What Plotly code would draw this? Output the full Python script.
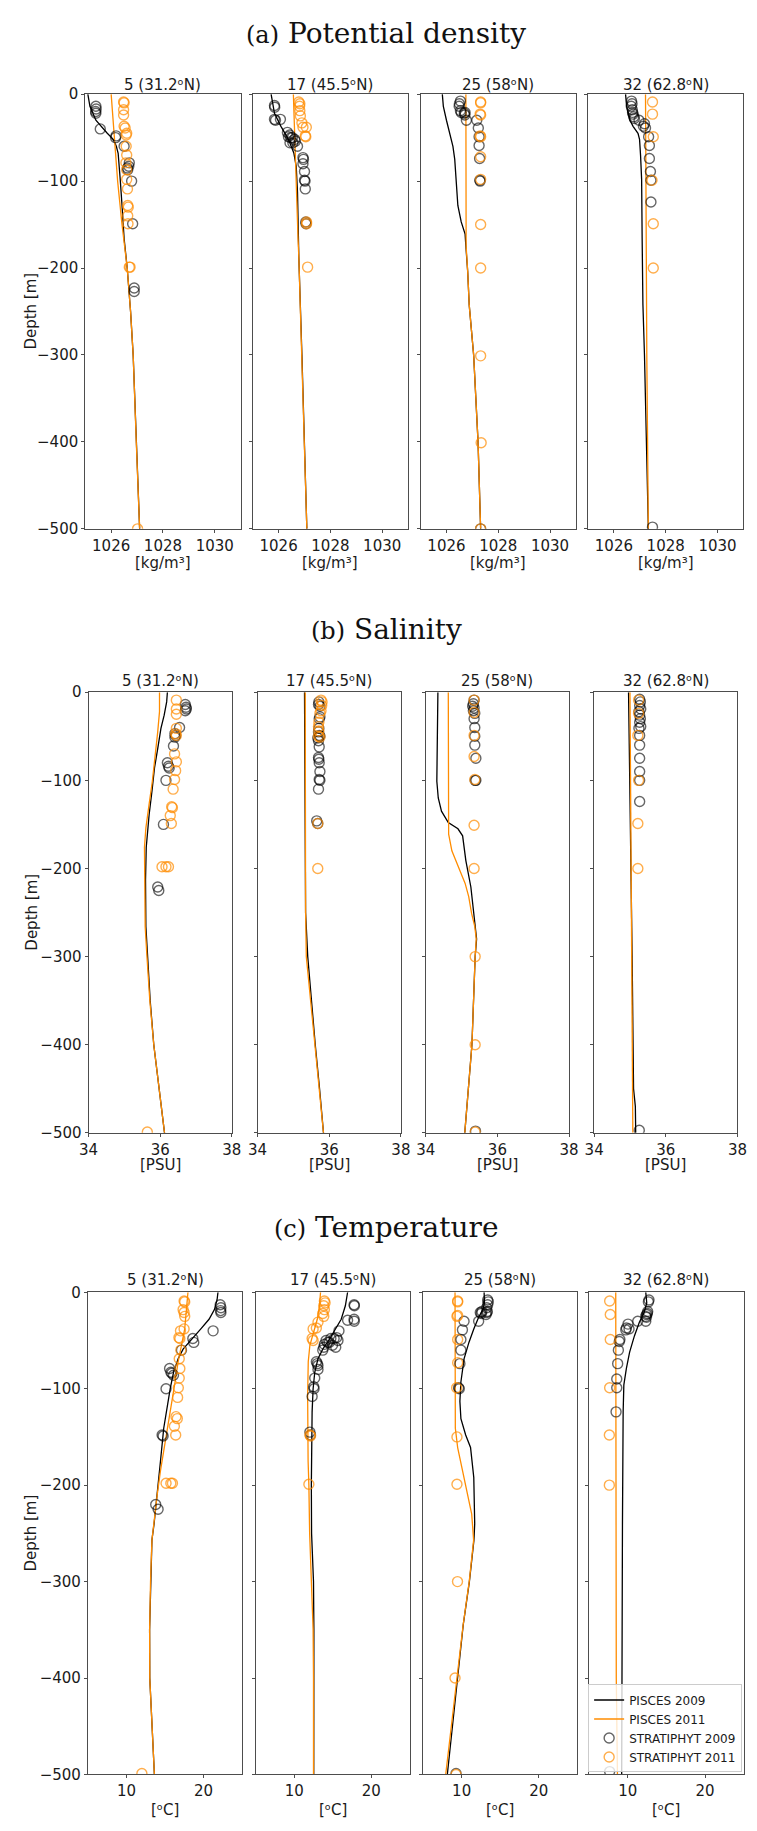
import plotly.graph_objects as go

W, H = 757, 1831
BLACK = "#000000"
ORANGE = "#ff8c00"
FRAME = "#4d4d4d"
TEXT = "#1a1a1a"

STATIONS = [
    "5 (31.2\u1d52N)",
    "17 (45.5\u1d52N)",
    "25 (58\u1d52N)",
    "32 (62.8\u1d52N)",
]
DEPTH_TICKS = [0, -100, -200, -300, -400, -500]
DEPTH_LABELS = ["0", "\u2212100", "\u2212200", "\u2212300", "\u2212400", "\u2212500"]

# ---- (a) potential density [kg/m3]; pairs are (depth m, value) ----
sig5_pisces09 = [(0, 1025.10), (14, 1025.18), (30, 1025.41), (37, 1025.60), (45, 1025.85), (52, 1026.08),
                 (60, 1026.20), (68, 1026.27), (83, 1026.32), (98, 1026.35), (128, 1026.42), (166, 1026.50),
                 (200, 1026.62), (250, 1026.75), (300, 1026.85), (400, 1026.97), (500, 1027.10)]
sig5_pisces11 = [(0, 1026.00), (50, 1026.12), (100, 1026.25), (150, 1026.42), (200, 1026.62), (250, 1026.75),
                 (300, 1026.85), (400, 1026.97), (500, 1027.10)]
sig5_obs09 = [(14, 1025.41), (17, 1025.42), (20, 1025.40), (22, 1025.41), (40, 1025.58), (48, 1026.19),
              (50, 1026.17), (60, 1026.50), (79, 1026.70), (83, 1026.68), (85, 1026.63), (87, 1026.64),
              (100, 1026.79), (149, 1026.83), (223, 1026.89), (227, 1026.89)]
sig5_obs11 = [(9, 1026.48), (10, 1026.50), (18, 1026.48), (24, 1026.48), (37, 1026.50), (39, 1026.54),
              (45, 1026.60), (47, 1026.58), (60, 1026.58), (70, 1026.60), (79, 1026.57), (87, 1026.60),
              (98, 1026.60), (109, 1026.63), (128, 1026.64), (130, 1026.66), (140, 1026.64), (149, 1026.65),
              (199, 1026.70), (199, 1026.73), (500, 1027.02)]

sig17_pisces09 = [(0, 1025.71), (22, 1025.84), (37, 1026.09), (52, 1026.38), (68, 1026.59), (83, 1026.68),
                  (113, 1026.73), (166, 1026.75), (187, 1026.78), (300, 1026.90), (400, 1027.00), (500, 1027.09)]
sig17_pisces11 = [(0, 1026.57), (83, 1026.65), (166, 1026.75), (187, 1026.78), (300, 1026.90), (400, 1027.00),
                  (500, 1027.09)]
sig17_obs09 = [(13, 1025.84), (15, 1025.85), (29, 1025.84), (30, 1025.88), (29, 1026.07), (44, 1026.34),
               (47, 1026.43), (49, 1026.38), (50, 1026.53), (50, 1026.47), (52, 1026.62), (54, 1026.65),
               (56, 1026.55), (56, 1026.44), (60, 1026.73), (73, 1026.94), (75, 1026.96), (80, 1026.94),
               (89, 1027.00), (99, 1027.00), (100, 1027.02), (109, 1027.03), (147, 1027.05), (149, 1027.06)]
sig17_obs11 = [(9, 1026.78), (11, 1026.82), (14, 1026.81), (19, 1026.82), (25, 1026.84), (33, 1026.90),
               (38, 1026.94), (38, 1027.07), (48, 1027.03), (49, 1027.05), (147, 1027.08), (149, 1027.08),
               (199, 1027.12)]

sig25_pisces09 = [(0, 1025.84), (14, 1025.88), (30, 1026.00), (45, 1026.13), (60, 1026.25), (75, 1026.32),
                  (98, 1026.38), (128, 1026.44), (147, 1026.57), (161, 1026.72), (175, 1026.75), (204, 1026.82),
                  (243, 1026.88), (300, 1027.05), (400, 1027.22), (500, 1027.32)]
sig25_pisces11 = [(0, 1026.75), (161, 1026.75), (175, 1026.76), (204, 1026.82), (243, 1026.88), (300, 1027.05),
                  (400, 1027.22), (500, 1027.32)]
sig25_obs09 = [(8, 1026.54), (11, 1026.50), (14, 1026.49), (19, 1026.54), (21, 1026.57), (21, 1026.72),
               (22, 1026.69), (24, 1026.71), (30, 1026.77), (30, 1027.17), (39, 1027.23), (49, 1027.26),
               (59, 1027.26), (74, 1027.28), (99, 1027.29), (100, 1027.30), (500, 1027.32)]
sig25_obs11 = [(9, 1027.32), (10, 1027.32), (23, 1027.30), (24, 1027.32), (48, 1027.30), (49, 1027.32),
               (72, 1027.32), (98, 1027.32), (150, 1027.32), (200, 1027.32), (301, 1027.32), (401, 1027.34),
               (500, 1027.32)]

sig32_pisces09 = [(0, 1026.45), (14, 1026.49), (30, 1026.62), (37, 1026.74), (45, 1026.93), (52, 1026.99),
                  (71, 1027.03), (98, 1027.07), (166, 1027.09), (242, 1027.12), (300, 1027.18), (400, 1027.26),
                  (500, 1027.33)]
sig32_pisces11 = [(0, 1027.22), (200, 1027.24), (300, 1027.27), (400, 1027.30), (500, 1027.33)]
sig32_obs09 = [(8, 1026.68), (11, 1026.70), (14, 1026.67), (18, 1026.71), (21, 1026.72), (23, 1026.74),
               (26, 1026.77), (28, 1026.79), (30, 1026.97), (34, 1027.18), (37, 1027.14), (39, 1027.22),
               (49, 1027.34), (59, 1027.37), (74, 1027.37), (89, 1027.41), (99, 1027.43), (124, 1027.43),
               (498, 1027.49)]
sig32_obs11 = [(9, 1027.49), (23, 1027.49), (49, 1027.52), (99, 1027.47), (149, 1027.52), (200, 1027.52)]

# ---- (b) salinity [PSU] ----
sal5_pisces09 = [(0, 36.20), (11, 36.18), (26, 36.11), (41, 36.02), (64, 35.93), (86, 35.84), (112, 35.77),
                 (139, 35.69), (176, 35.61), (213, 35.59), (266, 35.60), (300, 35.65), (350, 35.72),
                 (400, 35.82), (460, 36.00), (500, 36.12)]
sal5_pisces11 = [(0, 35.98), (22, 35.98), (45, 35.93), (71, 35.87), (101, 35.78), (127, 35.69), (154, 35.60),
                 (176, 35.56), (213, 35.56), (266, 35.58), (300, 35.63), (350, 35.71), (400, 35.82),
                 (460, 36.00), (500, 36.12)]
sal5_obs09 = [(14, 36.70), (17, 36.72), (19, 36.73), (21, 36.70), (40, 36.54), (47, 36.41), (49, 36.43),
              (51, 36.41), (61, 36.37), (80, 36.20), (84, 36.23), (86, 36.25), (100, 36.16), (150, 36.09),
              (221, 35.93), (225, 35.96)]
sal5_obs11 = [(9, 36.45), (19, 36.45), (25, 36.45), (41, 36.45), (47, 36.43), (49, 36.45), (70, 36.40),
              (79, 36.45), (89, 36.43), (99, 36.40), (110, 36.36), (130, 36.32), (131, 36.34), (140, 36.28),
              (149, 36.31), (198, 36.05), (198, 36.16), (198, 36.23), (499, 35.64)]

sal17_pisces09 = [(0, 35.31), (100, 35.32), (200, 35.33), (250, 35.34), (300, 35.40), (350, 35.50),
                  (400, 35.61), (450, 35.73), (500, 35.84)]
sal17_pisces11 = [(0, 35.33), (100, 35.33), (200, 35.34), (250, 35.34), (300, 35.36), (350, 35.48),
                  (400, 35.61), (450, 35.73), (500, 35.84)]
sal17_obs09 = [(11, 35.71), (14, 35.70), (16, 35.74), (28, 35.74), (30, 35.72), (41, 35.71), (45, 35.70),
               (49, 35.72), (50, 35.74), (52, 35.68), (55, 35.70), (62, 35.72), (74, 35.70), (76, 35.71),
               (80, 35.72), (90, 35.74), (99, 35.72), (100, 35.74), (110, 35.70), (146, 35.65), (149, 35.68)]
sal17_obs11 = [(9, 35.77), (11, 35.80), (15, 35.79), (21, 35.77), (24, 35.74), (34, 35.71), (39, 35.70),
               (44, 35.71), (50, 35.70), (51, 35.74), (149, 35.68), (200, 35.68)]

sal25_pisces09 = [(0, 34.34), (50, 34.32), (101, 34.31), (120, 34.35), (135, 34.44), (148, 34.63),
                  (155, 34.90), (163, 35.03), (191, 35.12), (221, 35.26), (251, 35.35), (280, 35.42),
                  (300, 35.38), (400, 35.29), (500, 35.09)]
sal25_pisces11 = [(0, 34.63), (161, 34.64), (180, 34.73), (198, 34.90), (217, 35.10), (232, 35.20),
                  (251, 35.28), (266, 35.37), (280, 35.41), (300, 35.38), (400, 35.29), (500, 35.09)]
sal25_obs09 = [(9, 35.35), (13, 35.33), (16, 35.31), (18, 35.35), (21, 35.33), (24, 35.37), (30, 35.35),
               (40, 35.37), (50, 35.37), (60, 35.37), (75, 35.40), (100, 35.38), (100, 35.40), (498, 35.39)]
sal25_obs11 = [(9, 35.35), (23, 35.35), (49, 35.35), (73, 35.35), (99, 35.37), (151, 35.35), (200, 35.35),
               (300, 35.38), (400, 35.38), (499, 35.38)]

sal32_pisces09 = [(0, 34.96), (100, 35.00), (300, 35.06), (450, 35.10), (470, 35.15), (500, 35.16)]
sal32_pisces11 = [(0, 35.00), (250, 35.03), (500, 35.08)]
sal32_obs09 = [(8, 35.27), (11, 35.29), (15, 35.27), (19, 35.30), (22, 35.25), (26, 35.27), (30, 35.29),
               (34, 35.27), (39, 35.30), (41, 35.25), (49, 35.27), (60, 35.27), (75, 35.27), (90, 35.27),
               (100, 35.27), (124, 35.27), (497, 35.26)]
sal32_obs11 = [(9, 35.24), (24, 35.24), (49, 35.22), (100, 35.24), (149, 35.22), (200, 35.22)]

# ---- (c) temperature [degC] ----
tem5_pisces09 = [(0, 21.86), (8, 21.74), (18, 21.40), (28, 20.70), (38, 19.64), (49, 18.40), (59, 17.34),
                 (69, 16.70), (83, 16.10), (100, 15.67), (120, 15.25), (141, 14.83), (175, 14.41),
                 (209, 14.00), (240, 13.58), (257, 13.30), (300, 13.12), (350, 13.00), (400, 13.02),
                 (450, 13.30), (500, 13.62)]
tem5_pisces11 = [(0, 17.97), (21, 17.76), (38, 17.55), (55, 17.13), (72, 16.70), (93, 16.30), (113, 15.88),
                 (134, 15.46), (158, 14.96), (185, 14.41), (209, 14.00), (240, 13.58), (257, 13.30),
                 (300, 13.12), (350, 13.00), (400, 13.02), (450, 13.30), (500, 13.62)]
tem5_obs09 = [(13, 22.15), (16, 22.24), (19, 22.20), (21, 22.24), (40, 21.23), (48, 18.60), (52, 18.72),
              (60, 17.13), (79, 15.59), (83, 15.75), (84, 15.88), (86, 16.09), (100, 15.13), (148, 14.62),
              (149, 14.75), (220, 13.79), (225, 14.10)]
tem5_obs11 = [(9, 17.47), (10, 17.55), (18, 17.34), (21, 17.47), (25, 17.55), (38, 17.47), (40, 17.00),
              (47, 16.80), (48, 16.92), (60, 17.05), (69, 16.84), (79, 16.92), (89, 16.84), (99, 16.72),
              (109, 16.63), (129, 16.42), (131, 16.59), (139, 16.21), (148, 16.38), (198, 15.13),
              (198, 15.75), (198, 15.96), (499, 12.00)]

tem17_pisces09 = [(0, 16.92), (14, 16.63), (28, 16.09), (38, 15.38), (49, 14.54), (59, 13.70), (69, 13.08),
                  (83, 12.66), (100, 12.45), (124, 12.32), (158, 12.24), (200, 12.22), (250, 12.25),
                  (300, 12.50), (350, 12.55), (400, 12.53), (500, 12.53)]
tem17_pisces11 = [(0, 13.41), (14, 13.28), (28, 12.99), (42, 12.45), (55, 12.03), (72, 11.82), (107, 11.74),
                  (175, 11.80), (200, 11.90), (250, 12.00), (300, 12.20), (350, 12.45), (400, 12.50),
                  (500, 12.50)]
tem17_obs09 = [(13, 17.76), (14, 17.80), (28, 17.76), (30, 17.78), (29, 16.92), (40, 15.80), (47, 15.50),
               (48, 14.75), (50, 14.12), (52, 14.33), (54, 13.91), (52, 14.54), (48, 15.17), (50, 15.67),
               (57, 15.38), (60, 13.70), (55, 14.96), (57, 13.83), (72, 12.87), (74, 12.99), (76, 13.08),
               (80, 13.08), (89, 12.66), (98, 12.53), (100, 12.57), (108, 12.32), (145, 12.03), (148, 12.11)]
tem17_obs11 = [(9, 13.91), (11, 14.00), (14, 13.83), (18, 13.91), (22, 13.70), (25, 13.83), (31, 13.08),
               (37, 12.87), (38, 12.45), (48, 12.32), (50, 12.45), (148, 12.03), (149, 12.11), (199, 11.90)]

tem25_pisces09 = [(0, 12.91), (11, 12.95), (18, 12.74), (26, 12.20), (38, 11.57), (52, 10.94), (69, 10.31),
                  (93, 9.90), (113, 9.77), (131, 9.90), (148, 10.52), (161, 11.15), (192, 11.57),
                  (240, 11.69), (257, 11.59), (300, 11.00), (345, 10.20), (400, 9.45), (450, 8.80),
                  (500, 8.14)]
tem25_pisces11 = [(0, 9.14), (141, 9.18), (161, 9.48), (185, 10.10), (209, 10.73), (230, 11.30), (257, 11.55),
                  (300, 10.98), (345, 10.19), (400, 9.42), (450, 8.70), (500, 7.93)]
tem25_obs09 = [(8, 13.37), (10, 13.45), (13, 13.37), (16, 13.24), (20, 13.33), (21, 13.24), (22, 12.53),
               (21, 12.41), (23, 13.16), (20, 12.62), (30, 12.20), (30, 10.31), (39, 10.10), (49, 9.90),
               (60, 9.90), (74, 9.77), (99, 9.60), (100, 9.69), (499, 9.27)]
tem25_obs11 = [(9, 9.48), (10, 9.48), (24, 9.48), (25, 9.39), (49, 9.48), (73, 9.48), (99, 9.35), (150, 9.39),
               (199, 9.39), (300, 9.46), (400, 9.14), (500, 9.27)]

tem32_pisces09 = [(0, 12.32), (11, 12.45), (21, 12.11), (31, 11.49), (45, 10.86), (62, 10.23), (79, 9.81),
                  (96, 9.48), (124, 9.39), (240, 9.30), (500, 9.20)]
tem32_pisces11 = [(0, 8.43), (300, 8.43), (400, 8.50), (500, 8.65)]
tem32_obs09 = [(8, 12.74), (10, 12.66), (20, 12.57), (23, 12.41), (22, 12.53), (25, 12.32), (26, 12.41),
               (30, 12.32), (30, 11.28), (33, 10.02), (37, 9.81), (39, 9.73), (38, 10.15), (49, 8.97),
               (51, 8.89), (60, 8.77), (74, 8.68), (90, 8.56), (99, 8.56), (124, 8.47), (497, 7.64)]
tem32_obs11 = [(9, 7.64), (23, 7.72), (49, 7.72), (99, 7.64), (148, 7.60), (200, 7.60)]

# ---- figure layout (pixel geometry of each block of four panels) ----
SECTIONS = [
    dict(label="(a)", name="Potential density", unit="[kg/m\u00b3]",
         xrange=[1025, 1031], xticks=[1026, 1028, 1030],
         top=86, bottom=525, lefts=[77.3, 249.3, 421.7, 593.7], width=159.6,
         title_y=25, sub_y=77, unit_y=559,
         panels=[(sig5_pisces09, sig5_pisces11, sig5_obs09, sig5_obs11),
                 (sig17_pisces09, sig17_pisces11, sig17_obs09, sig17_obs11),
                 (sig25_pisces09, sig25_pisces11, sig25_obs09, sig25_obs11),
                 (sig32_pisces09, sig32_pisces11, sig32_obs09, sig32_obs11)]),
    dict(label="(b)", name="Salinity", unit="[PSU]",
         xrange=[34, 38], xticks=[34, 36, 38],
         top=690, bottom=1135, lefts=[80.7, 254.3, 427.0, 600.0], width=147.2,
         title_y=627, sub_y=679, unit_y=1167,
         panels=[(sal5_pisces09, sal5_pisces11, sal5_obs09, sal5_obs11),
                 (sal17_pisces09, sal17_pisces11, sal17_obs09, sal17_obs11),
                 (sal25_pisces09, sal25_pisces11, sal25_obs09, sal25_obs11),
                 (sal32_pisces09, sal32_pisces11, sal32_obs09, sal32_obs11)]),
    dict(label="(c)", name="Temperature", unit="[\u1d52C]",
         xrange=[5, 25], xticks=[10, 20],
         top=1296, bottom=1783, lefts=[80.0, 252.3, 424.3, 595.0], width=158.5,
         title_y=1231, sub_y=1284, unit_y=1819,
         panels=[(tem5_pisces09, tem5_pisces11, tem5_obs09, tem5_obs11),
                 (tem17_pisces09, tem17_pisces11, tem17_obs09, tem17_obs11),
                 (tem25_pisces09, tem25_pisces11, tem25_obs09, tem25_obs11),
                 (tem32_pisces09, tem32_pisces11, tem32_obs09, tem32_obs11)]),
]


def px_x(x):
    return x / W


def px_y(y):
    return 1 - y / H


fig = go.Figure()
annotations = []
layout_axes = {}
TICK_FONT = dict(family="DejaVu Sans", size=15, color=TEXT)

n = 0
for s_i, sec in enumerate(SECTIONS):
    for p_i, (m09, m11, o09, o11) in enumerate(sec["panels"]):
        n += 1
        sx = "" if n == 1 else str(n)
        xa, ya = "x" + sx, "y" + sx
        last = (s_i == len(SECTIONS) - 1 and p_i == 3)

        fig.add_trace(go.Scatter(
            x=[v for d, v in m09], y=[-d for d, v in m09], mode="lines",
            line=dict(color=BLACK, width=1.3), name="PISCES 2009",
            showlegend=last, xaxis=xa, yaxis=ya, hoverinfo="skip"))
        fig.add_trace(go.Scatter(
            x=[v for d, v in m11], y=[-d for d, v in m11], mode="lines",
            line=dict(color=ORANGE, width=1.3), name="PISCES 2011",
            showlegend=last, xaxis=xa, yaxis=ya, hoverinfo="skip"))
        fig.add_trace(go.Scatter(
            x=[v for d, v in o09], y=[-d for d, v in o09], mode="markers",
            marker=dict(symbol="circle-open", size=10, color=BLACK, opacity=0.6,
                        line=dict(width=1.4, color=BLACK)),
            name="STRATIPHYT 2009", showlegend=last, xaxis=xa, yaxis=ya, hoverinfo="skip"))
        fig.add_trace(go.Scatter(
            x=[v for d, v in o11], y=[-d for d, v in o11], mode="markers",
            marker=dict(symbol="circle-open", size=10, color=ORANGE, opacity=0.7,
                        line=dict(width=1.4, color=ORANGE)),
            name="STRATIPHYT 2011", showlegend=last, xaxis=xa, yaxis=ya, hoverinfo="skip"))

        left = sec["lefts"][p_i]
        right = left + sec["width"]
        layout_axes["xaxis" + sx] = dict(
            domain=[px_x(left), px_x(right)], anchor=ya, range=sec["xrange"],
            tickvals=sec["xticks"], ticks="outside", ticklen=3, tickcolor=FRAME,
            showline=True, linecolor=FRAME, linewidth=1, mirror=True,
            showgrid=False, zeroline=False, tickfont=TICK_FONT, fixedrange=True)
        layout_axes["yaxis" + sx] = dict(
            domain=[px_y(sec["bottom"]), px_y(sec["top"])], anchor=xa, range=[-500, 0],
            tickvals=DEPTH_TICKS, ticktext=DEPTH_LABELS, ticks="outside", ticklen=3,
            tickcolor=FRAME, showline=True, linecolor=FRAME, linewidth=1, mirror=True,
            showgrid=False, zeroline=False, tickfont=TICK_FONT,
            showticklabels=(p_i == 0), fixedrange=True)

        cx = px_x((left + right) / 2)
        annotations.append(dict(
            text=STATIONS[p_i], x=cx, y=px_y(sec["sub_y"]), xref="paper", yref="paper",
            xanchor="center", yanchor="middle", showarrow=False,
            font=dict(family="DejaVu Sans", size=15, color=TEXT)))
        annotations.append(dict(
            text=sec["unit"], x=cx, y=px_y(sec["unit_y"]), xref="paper", yref="paper",
            xanchor="center", yanchor="middle", showarrow=False,
            font=dict(family="DejaVu Sans", size=15, color=TEXT)))

    annotations.append(dict(
        text="<span style='font-size:24px'>" + sec["label"] + "</span> " + sec["name"],
        x=px_x(386.5), y=px_y(sec["title_y"]), xref="paper", yref="paper",
        xanchor="center", yanchor="middle", showarrow=False,
        font=dict(family="DejaVu Serif", size=28, color="#111111")))
    annotations.append(dict(
        text="Depth [m]", x=px_x(21.7), y=px_y((sec["top"] + sec["bottom"]) / 2),
        xref="paper", yref="paper", xanchor="center", yanchor="middle",
        textangle=-90, showarrow=False,
        font=dict(family="DejaVu Sans", size=15, color=TEXT)))

fig.update_layout(
    width=W, height=H, margin=dict(l=0, r=0, t=0, b=0),
    paper_bgcolor="white", plot_bgcolor="white",
    annotations=annotations,
    legend=dict(x=px_x(752), y=px_y(1781), xanchor="right", yanchor="bottom",
                bgcolor="rgba(255,255,255,0.8)", bordercolor="#cccccc", borderwidth=1,
                font=dict(family="DejaVu Sans", size=12, color=TEXT),
                tracegroupgap=0, itemwidth=30),
    **layout_axes,
)

fig.write_html("out.html")
